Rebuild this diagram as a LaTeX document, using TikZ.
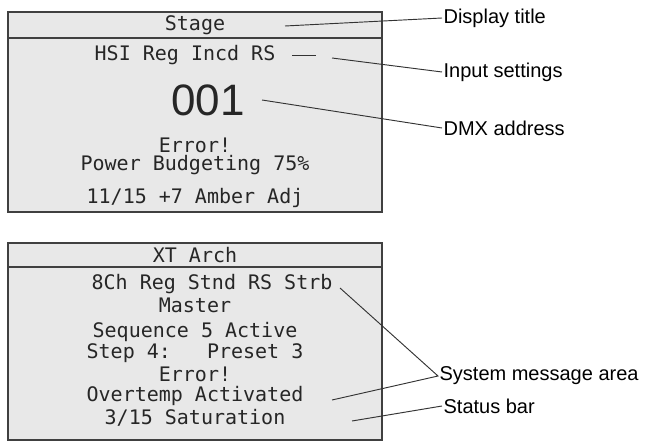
\documentclass[tikz,border=0pt]{standalone}
\usepackage{fontspec}
\setmainfont{Liberation Sans}
\newfontfamily\monof{DejaVu Sans Mono}
\begin{document}
\begin{tikzpicture}[x=0.75pt,y=-0.75pt,
  panel/.style={draw=black!75,line width=0.9pt,fill=black!9},
  mono/.style={font=\monof\fontsize{15}{16}\selectfont,text=black!85,inner sep=1pt},
  lab/.style={font=\fontsize{15}{16}\selectfont,anchor=west,inner sep=1pt},
  lead/.style={draw=black!80,line width=0.7pt}]
\useasboundingbox (0,0) rectangle (656,445);
\draw[panel] (8,12) rectangle (382,212);
\draw[draw=black!75,line width=0.9pt] (8,38) -- (382,38);
\draw[panel] (8,243) rectangle (382,440);
\draw[draw=black!75,line width=0.9pt] (8,267) -- (382,267);
% top
\node[mono] (t1) at (195,25) {Stage};
\node[mono] (t2) at (185,55) {HSI Reg Incd RS};
\node[font=\fontsize{33}{35}\selectfont,text=black!85,inner sep=1pt] (t3) at (208,100) {001};
\node[mono] (t4) at (195,145) {Error!};
\node[mono] (t5) at (195,165) {Power Budgeting 75\%};
\node[mono] (t6) at (195,198) {11/15 +7 Amber Adj};
% bottom
\node[mono] (b1) at (195,255) {XT Arch};
\node[mono] (b2) at (212,284) {8Ch Reg Stnd RS Strb};
\node[mono] (b3) at (195,305) {Master};
\node[mono] (b4) at (195,332) {Sequence 5 Active};
\node[mono] (b5) at (195,353) {Step 4:\ \ \ Preset 3};
\node[mono] (b6) at (195,374) {Error!};
\node[mono] (b7) at (195,396) {Overtemp Activated};
\node[mono] (b8) at (195,418) {3/15 Saturation};
% labels
\node[lab] (l1) at (442,18) {Display title};
\node[lab] (l2) at (442,72) {Input settings};
\node[lab] (l3) at (442,128) {DMX address};
\node[lab] (l4) at (438,376) {System message area};
\node[lab] (l5) at (442,406) {Status bar};
\coordinate (c1) at (285,26);
\coordinate (c2a) at (292,55); \coordinate (c2b) at (316,55);
\coordinate (c2c) at (332,58);
\coordinate (c3) at (262,100);
\coordinate (c4a) at (340,288); \coordinate (c4b) at (332,400);
\coordinate (c5) at (352,421);
\draw[lead] (c1) -- (l1.west);
\draw[lead] (c2a) -- (c2b);
\draw[lead] (c2c) -- (l2.west);
\draw[lead] (c3) -- (l3.west);
\draw[lead] (c4a) -- (l4.west) -- (c4b);
\draw[lead] (c5) -- (l5.west);
\end{tikzpicture}
\end{document}
